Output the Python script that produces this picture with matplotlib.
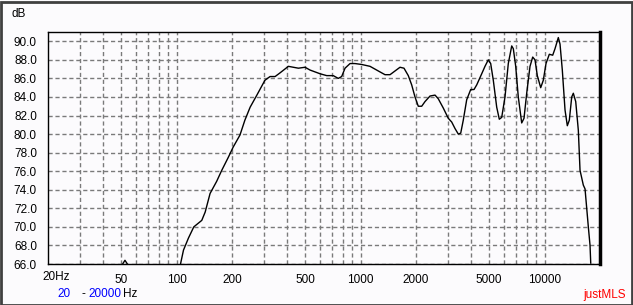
import numpy as np
import matplotlib
matplotlib.use("Agg")
import matplotlib.pyplot as plt
from matplotlib.patches import Rectangle
from matplotlib.ticker import FixedLocator, NullFormatter

plt.rcParams["font.family"] = ["Liberation Sans", "DejaVu Sans"]

# frequency response (Hz, dB)
bump_freq = [50.9, 52.4, 54.0]
bump_db = [66.0, 66.4, 66.0]

freq = [105, 109, 116, 124, 137, 143, 152, 165, 176, 191, 203, 221, 235, 251,
        273, 302, 322, 343, 365, 405, 431, 459, 499, 531, 602, 654, 710, 756,
        789, 823, 876, 932, 1014, 1125, 1248, 1357, 1445, 1538, 1637, 1721,
        1816, 1895, 1975, 2058, 2148, 2238, 2384, 2538, 2644, 2815, 2996, 3126,
        3258, 3396, 3500, 3614, 3772, 3966, 4133, 4276, 4552, 4742, 4942, 5093,
        5262, 5491, 5672, 5846, 6092, 6348, 6626, 6760, 6965, 7194, 7508, 7727,
        7992, 8330, 8616, 8868, 9127, 9523, 9838, 10176, 10606, 11066, 11390,
        11870, 12126, 12480, 12910, 13286, 13624, 14040, 14324, 14760, 15250,
        15576, 16232, 16582, 16938, 17282, 17656, 17810]
spl = [66.0, 67.5, 68.8, 70.0, 70.7, 71.6, 73.6, 74.9, 76.1, 77.5, 78.6, 79.9,
       81.5, 82.9, 84.2, 85.8, 86.2, 86.2, 86.6, 87.3, 87.2, 87.1, 87.2, 86.9,
       86.5, 86.3, 86.3, 86.0, 86.2, 87.1, 87.6, 87.6, 87.5, 87.3, 86.8, 86.4,
       86.4, 86.8, 87.2, 87.1, 86.3, 85.3, 84.0, 83.0, 83.0, 83.5, 84.1, 84.2,
       83.8, 82.8, 81.7, 81.3, 80.6, 80.0, 80.1, 81.5, 83.7, 84.8, 84.8, 85.3,
       86.5, 87.3, 88.0, 87.6, 85.8, 82.9, 81.6, 81.8, 84.0, 87.6, 89.5, 89.2,
       87.3, 84.0, 81.2, 81.7, 84.4, 87.3, 88.3, 88.0, 86.3, 85.0, 85.8, 87.6,
       88.6, 88.5, 89.2, 90.4, 89.7, 86.9, 82.6, 80.9, 81.5, 84.0, 84.4, 83.5,
       80.4, 76.1, 74.5, 74.1, 72.0, 70.0, 68.0, 66.1]

y_ticks = [66, 68, 70, 72, 74, 76, 78, 80, 82, 84, 86, 88, 90]
x_ticks = [50, 100, 200, 500, 1000, 2000, 5000, 10000]
x_labels = ["50", "100", "200", "500", "1000", "2000", "5000", "10000"]
grid_freqs = [30, 40, 50, 60, 70, 80, 90, 100, 200, 300, 400, 500, 600, 700,
              800, 900, 1000, 2000, 3000, 4000, 5000, 6000, 7000, 8000, 9000,
              10000]

bg = "#fcfbfd"
W, H = 633, 305
fig = plt.figure(figsize=(W / 100, H / 100), dpi=100, facecolor=bg)
ax = fig.add_axes([48 / W, 41 / H, 552 / W, 232 / H], facecolor=bg)

ax.set_xscale("log")
ax.set_xlim(20, 20000)
ax.set_ylim(66, 91)

# dashed grid
for f in grid_freqs:
    ax.axvline(f, color="#7a7a7a", lw=1, ls=(0, (3, 2)), zorder=1)
for y in y_ticks:
    ax.axhline(y, color="#7a7a7a", lw=1, ls=(0, (3, 2)), zorder=1)

ax.plot(bump_freq, bump_db, color="black", lw=1, zorder=3)
ax.plot(freq, spl, color="black", lw=1, zorder=3)

ax.yaxis.set_major_locator(FixedLocator(y_ticks))
ax.set_yticklabels([f"{v:.1f}" for v in y_ticks])
ax.xaxis.set_major_locator(FixedLocator(x_ticks))
ax.xaxis.set_minor_formatter(NullFormatter())
ax.set_xticklabels(x_labels)
ax.tick_params(axis="both", which="both", length=0, labelsize=8.5, colors="black")
ax.tick_params(axis="y", pad=8)
ax.tick_params(axis="x", pad=7)

for side in ["top", "left", "bottom"]:
    ax.spines[side].set_linewidth(1)
    ax.spines[side].set_color("black")
ax.spines["right"].set_linewidth(2.5)
ax.spines["right"].set_color("black")

# the 20Hz label sits left of the other labels
ax.text(42.5 / W, (305 - 277) / H, "20Hz", transform=fig.transFigure,
        fontsize=8.5, ha="left", va="center")

fig.text(11 / W, (305 - 14) / H, "dB", fontsize=8.5, ha="left", va="center")

fig.text(57 / W, (305 - 294) / H, "20", fontsize=8.5, color="#0000ff", ha="left", va="center")
fig.text(81 / W, (305 - 294) / H, "-", fontsize=8.5, color="black", ha="left", va="center")
fig.text(88 / W, (305 - 294) / H, "20000", fontsize=8.5, color="#0000ff", ha="left", va="center")
fig.text(123 / W, (305 - 294) / H, "Hz", fontsize=8.5, color="black", ha="left", va="center")
fig.text(626 / W, (305 - 295) / H, "justMLS", fontsize=8.5, color="#ff0000", ha="right", va="center")

# outer frame
fig.patches.append(Rectangle((0.5 / W, 0.5 / H), 1 - 2 / W, 1 - 2 / H,
                             transform=fig.transFigure, fill=False,
                             edgecolor="#404040", lw=2))

fig.savefig("out.png", dpi=100, facecolor=bg)
